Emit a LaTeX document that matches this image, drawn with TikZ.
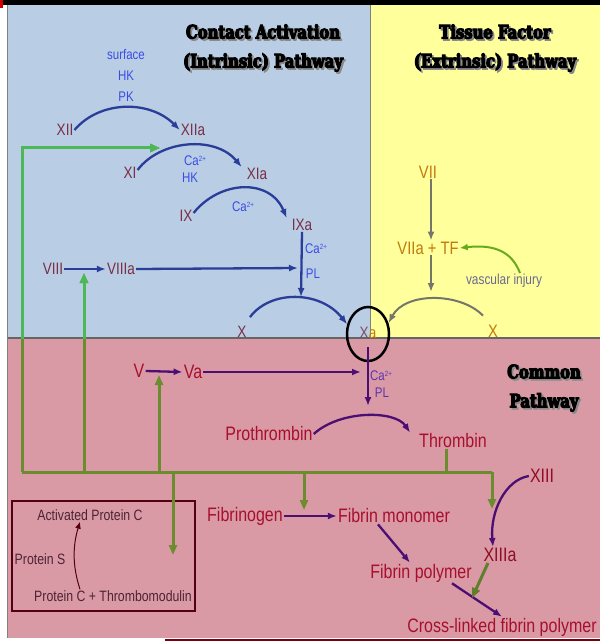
\documentclass[tikz,border=0pt]{standalone}
\usepackage{fontspec}
\setmainfont{Liberation Sans}[FakeStretch=0.82]
\newfontfamily\titlefont{DejaVu Serif}[FakeStretch=0.80, UprightFeatures={FakeBold=6}, BoldFeatures={FakeBold=6}]
\usetikzlibrary{arrows.meta,shapes.geometric}

\definecolor{bgblue}{HTML}{B9CDE4}
\definecolor{bgyellow}{HTML}{FFFF9C}
\definecolor{bgpink}{HTML}{D99AA6}
\definecolor{maroonf}{HTML}{7A2E48}
\definecolor{orangef}{HTML}{C27A0C}
\definecolor{redf}{HTML}{A80F2C}
\definecolor{boxtext}{HTML}{4D2433}
\definecolor{boxline}{HTML}{55000F}
\definecolor{arcblue}{HTML}{2A3D98}
\definecolor{lblblue}{HTML}{3A4CE6}
\definecolor{lblpurple}{HTML}{5B34B0}
\definecolor{arcpurple}{HTML}{4B0E72}
\definecolor{arcgray}{HTML}{75756A}
\definecolor{olivegreen}{HTML}{6C8C30}
\definecolor{brightgreen}{HTML}{4DB858}
\definecolor{injurygreen}{HTML}{66AA1E}
\definecolor{injurytext}{HTML}{6A6A90}
\definecolor{shadowgray}{HTML}{8A8A8A}

\newcommand\caion{Ca\raisebox{0.6ex}{\fontsize{7.5}{7.5}\selectfont 2+}}

\tikzset{
  fac/.style={text=maroonf, font=\fontsize{16.5}{18}\selectfont, inner sep=1pt},
  extf/.style={text=orangef, font=\fontsize{18}{20}\selectfont, inner sep=1pt},
  com/.style={text=redf, font=\fontsize{19.5}{22}\selectfont, inner sep=1pt},
  small/.style={text=lblblue, font=\fontsize{14}{15}\selectfont, inner sep=0pt},
  smallp/.style={text=lblpurple, font=\fontsize{14}{15}\selectfont, inner sep=0pt},
  boxlbl/.style={text=boxtext, font=\fontsize{15}{17}\selectfont, inner sep=1pt},
  titletext/.style={font=\titlefont\bfseries\fontsize{18.5}{29}\selectfont, align=center, inner sep=0pt},
  blueflow/.style={draw=arcblue, line width=2.3pt, -{Latex[length=9pt,width=7pt]}},
  purpleflow/.style={draw=arcpurple, line width=2.3pt, -{Latex[length=9pt,width=7pt]}},
  grayflow/.style={draw=arcgray, line width=2pt, -{Latex[length=9pt,width=7pt]}},
  greenline/.style={draw=olivegreen, line width=3pt},
  greenflow/.style={greenline, -{Triangle[length=10pt,width=8pt]}},
}

\begin{document}
\begin{tikzpicture}[x=1pt,y=-1pt]
\useasboundingbox (0,0) rectangle (600,644);

% panels
\fill[white] (0,0) rectangle (600,644);
\fill[black] (0,0) rectangle (600,5);
\fill[red!80!black] (0,0) rectangle (3,8);
\fill[bgblue] (7,5) rectangle (370,338);
\fill[bgyellow] (370,5) rectangle (600,338);
\fill[bgpink] (7,338) rectangle (600,638);
\draw[gray, line width=1pt] (370,5) -- (370,338);
\draw[black!60, line width=1.2pt] (7,338) -- (600,338);
\draw[gray, line width=1pt] (7,5) -- (7,638);
\draw[boxline!80!red, line width=2pt] (165,640) -- (600,640);

% titles with drop shadow
\node[titletext, text=shadowgray] at (264.8,49.8) {Contact Activation\\(Intrinsic) Pathway};
\node[titletext] (tIntr) at (263,48) {Contact Activation\\(Intrinsic) Pathway};
\node[titletext, text=shadowgray] at (496.8,49.8) {Tissue Factor\\(Extrinsic) Pathway};
\node[titletext] (tExtr) at (495,48) {Tissue Factor\\(Extrinsic) Pathway};
\node[titletext, text=shadowgray] at (545.8,389.8) {Common\\Pathway};
\node[titletext] (tCom) at (544,388) {Common\\Pathway};

% intrinsic factors
\node[fac] (XII) at (65,130) {XII};
\node[fac] (XIIa) at (193,130) {XIIa};
\node[fac] (XI) at (130,173) {XI};
\node[fac] (XIa) at (257,174) {XIa};
\node[fac] (IX) at (186,216) {IX};
\node[fac] (IXa) at (302,225) {IXa};
\node[fac] (VIII) at (53,269) {VIII};
\node[fac] (VIIIa) at (121,269) {VIIIa};
\node[fac] (Xin) at (242,332) {X};

\node[small] (surf) at (126,55) {surface};
\node[small] (hk1) at (126,76) {HK};
\node[small] (pk1) at (126,97) {PK};
\node[small] (ca1) at (195,161) {\caion};
\node[small] (hk2) at (190,178) {HK};
\node[small] (ca2) at (243,207) {\caion};
\node[small] (ca3) at (316,249) {\caion};
\node[small] (pl1) at (313,274) {PL};

% extrinsic factors
\node[extf] (VII) at (428,172) {VII};
\node[extf] (VIIaTF) at (428,248) {VIIa + TF};
\node[extf] (Xex) at (493,331) {X};
\node[text=injurytext, font=\fontsize{14.5}{16}\selectfont, inner sep=1pt] (injury) at (504,281) {vascular injury};

% factor Xa, circled
\node[ellipse, draw=black, line width=2.5pt, minimum width=42pt, minimum height=54pt, inner sep=0pt,
      font=\fontsize{16.5}{18}\selectfont] (Xa) at (368,334)
      {\raisebox{1.5pt}{\color{maroonf!60!gray}X\color{orangef}a}};

% common pathway
\node[com] (V) at (139,371) {V};
\node[com] (Va) at (193,372) {Va};
\node[smallp] (ca4) at (381,376) {\caion};
\node[smallp] (pl2) at (382,393) {PL};
\node[com] (Pro) at (269,434) {Prothrombin};
\node[com] (Thr) at (453,441) {Thrombin};
\node[com] (Fbg) at (245,516) {Fibrinogen};
\node[com] (FibMono) at (394,516) {Fibrin monomer};
\node[com] (FibPoly) at (421,573) {Fibrin polymer};
\node[com, text=redf!85!black] (XIII) at (542,476) {XIII};
\node[com, text=redf!85!black] (XIIIa) at (500,555) {XIIIa};
\node[com] (XL) at (502,627) {Cross-linked fibrin polymer};

% protein C box
\draw[boxline, line width=2pt] (12,501) rectangle (195,611);
\node[boxlbl] (APC) at (90,515) {Activated Protein C};
\node[boxlbl] (PS) at (40,559) {Protein S};
\node[boxlbl] (PCT) at (113,596) {Protein C + Thrombomodulin};
\draw[boxline, line width=1pt, -{Latex[length=7pt,width=6pt]}]
  ([xshift=-33pt]PCT.north) .. controls (72,565) and (73,545) .. ([xshift=-10pt]APC.south);

% points on the reaction arcs
\coordinate (xpeak) at (301,297);
\coordinate (ixline) at (298,268);
\coordinate (extpeak) at (431,292);
\coordinate (valine) at (361,372);
\coordinate (propeak) at (368,406);
\coordinate (xlink) at (472,598);

% intrinsic cascade
\draw[blueflow] (XII.east) .. controls (100,100) and (150,100) .. (XIIa.west);
\draw[blueflow] ([yshift=3pt]XI.east) .. controls (160,140) and (215,135) .. ([xshift=-4pt]XIa.north west);
\draw[blueflow] ([yshift=3pt]IX.east) .. controls (220,180) and (270,178) .. ([xshift=-4pt]IXa.north west);
\draw[blueflow] (IXa.south) -- (xpeak);
\draw[blueflow] (VIII.east) -- (VIIIa.west);
\draw[blueflow] (VIIIa.east) -- (ixline);
\draw[blueflow] ([xshift=8pt,yshift=8pt]Xin.north) .. controls (270,290) and (320,290) .. (Xa.155);

% extrinsic cascade
\draw[grayflow] ([xshift=3pt]VII.south) -- ([xshift=3pt]VIIaTF.north);
\draw[grayflow] ([xshift=3pt]VIIaTF.south) -- (extpeak);
\draw[grayflow] ([xshift=-10pt,yshift=8pt]Xex.north) .. controls (460,292) and (405,292) .. (Xa.28);
\draw[draw=injurygreen, line width=2pt, -{Latex[length=8pt,width=7pt]}]
  ([xshift=16pt]injury.north) .. controls (512,252) and (495,244) .. (VIIaTF.east);

% common pathway
\draw[purpleflow] (V.east) -- (Va.west);
\draw[purpleflow] (Va.east) -- (valine);
\draw[purpleflow] ([yshift=-13pt]Xa.center) -- (propeak);
\draw[purpleflow] (Pro.east) .. controls (340,410) and (395,410) .. ([xshift=-8pt]Thr.north west);
\draw[purpleflow] (Fbg.east) -- (FibMono.west);
\draw[purpleflow] ([xshift=-16pt]FibMono.south) -- ([xshift=-11pt]FibPoly.north);
\draw[purpleflow] ([xshift=31pt]FibPoly.south) -- ([xshift=0pt]XL.north);
\draw[purpleflow] (XIII.west) .. controls (505,480) and (490,512) .. ([xshift=-7pt]XIIIa.north);

% thrombin feedback network
\coordinate (gL) at (22,472);
\coordinate (gR) at (492,472);
\coordinate (gXI) at (160,148);
\coordinate (gVIII) at (84,273);
\coordinate (gV) at (159,375);
\coordinate (gPC) at (173,555);
\coordinate (gFib) at (304,510);
\coordinate (gXIII) at (492,509);
\draw[greenline, line join=miter] (gL) -- (gR);
\draw[greenline] ([xshift=-7pt]Thr.south) -- ([xshift=-7pt]Thr.south |- gL);
\draw[greenflow, line join=miter] (gL) |- (gXI);
\draw[greenflow] (gVIII |- gL) -- (gVIII);
\draw[greenflow] (gV |- gL) -- (gV);
\draw[greenflow] (gPC |- gL) -- (gPC);
\draw[greenflow] (gFib |- gL) -- (gFib);
\draw[greenflow] (gR) -- (gXIII);
\draw[greenflow, draw=olivegreen!90!black] ([xshift=-12pt]XIIIa.south) -- (xlink);
\begin{scope}
  \clip (7,5) rectangle (370,338);
  \draw[greenflow, draw=brightgreen, line join=miter] (gL) |- (gXI);
  \draw[greenflow, draw=brightgreen] (gVIII |- gL) -- (gVIII);
\end{scope}
\end{tikzpicture}
\end{document}
